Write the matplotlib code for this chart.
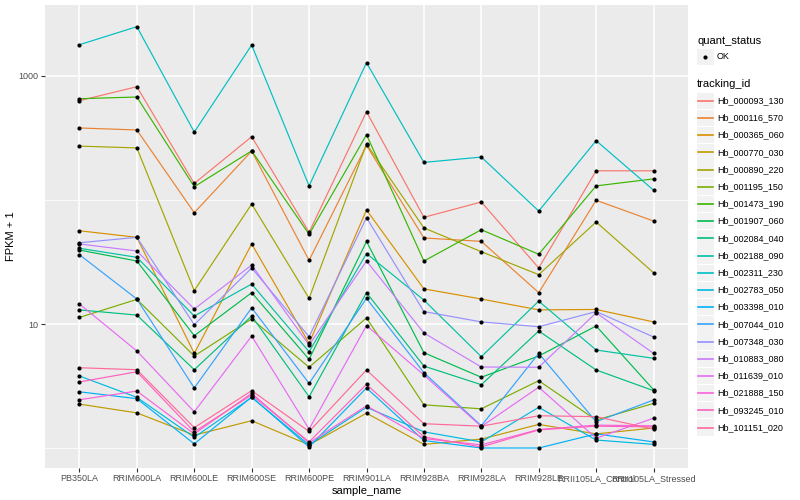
import numpy as np
import matplotlib.pyplot as plt
from matplotlib.patches import Rectangle
from matplotlib.ticker import FixedLocator, NullFormatter

plt.rcParams['font.family'] = ['Liberation Sans', 'DejaVu Sans']

# samples on the x axis
samples = ['PB350LA', 'RRIM600LA', 'RRIM600LE', 'RRIM600SE', 'RRIM600PE',
           'RRIM901LA', 'RRIM928BA', 'RRIM928LA', 'RRIM928LE',
           'RRII105LA_Control', 'RRII105LA_Stressed']

tracking_ids = ['Hb_000093_130', 'Hb_000116_570', 'Hb_000365_060', 'Hb_000770_030',
                'Hb_000890_220', 'Hb_001195_150', 'Hb_001473_190', 'Hb_001907_060',
                'Hb_002084_040', 'Hb_002188_090', 'Hb_002311_230', 'Hb_002783_050',
                'Hb_003398_010', 'Hb_007044_010', 'Hb_007348_030', 'Hb_010883_080',
                'Hb_011639_010', 'Hb_021888_150', 'Hb_093245_010', 'Hb_101151_020']

# FPKM + 1 per gene, one value per sample
hb_000093_130 = [632, 820, 136, 324, 54.9, 515, 72.5, 96.4, 28.3, 172, 172]
hb_000116_570 = [381, 367, 79.0, 248, 32.6, 276, 49.4, 46.4, 17.9, 99.5, 67.7]
hb_000365_060 = [56.5, 50.0, 5.80, 44.2, 6.99, 83.1, 19.2, 15.9, 13.0, 13.1, 10.4]
hb_000770_030 = [2.26, 1.92, 1.27, 1.66, 1.06, 1.91, 1.07, 1.18, 1.55, 1.30, 1.45]
hb_000890_220 = [272, 263, 18.6, 92.8, 16.1, 283, 59.5, 38.3, 25.0, 66.5, 25.9]
hb_001195_150 = [11.3, 15.8, 5.52, 11.0, 4.48, 11.2, 2.23, 2.07, 3.49, 1.68, 2.29]
hb_001473_190 = [656, 677, 128, 249, 52.9, 336, 32.2, 57.6, 36.5, 130, 148]
hb_001907_060 = [39.5, 32.2, 8.05, 17.9, 5.19, 46.3, 5.87, 3.72, 5.52, 9.64, 2.95]
hb_002084_040 = [13.0, 11.8, 4.28, 11.6, 2.59, 17.9, 4.58, 3.24, 8.78, 4.26, 2.90]
hb_002188_090 = [40.8, 34.5, 11.6, 21.0, 5.98, 37.0, 15.6, 5.45, 15.3, 6.17, 5.29]
hb_002311_230 = [1788, 2498, 353, 1778, 130, 1280, 201, 222, 81.5, 301, 120]
hb_002783_050 = [3.81, 2.56, 1.22, 2.56, 1.06, 2.13, 1.35, 1.12, 2.13, 1.16, 1.07]
hb_003398_010 = [2.84, 2.50, 1.08, 2.58, 1.02, 3.05, 1.15, 1.00, 1.00, 1.30, 1.12]
hb_007044_010 = [36.2, 15.9, 3.05, 13.5, 3.32, 16.1, 4.05, 1.51, 5.80, 1.63, 2.44]
hb_007348_030 = [45.2, 50.0, 9.87, 28.3, 7.90, 72.0, 12.6, 10.4, 9.51, 12.6, 7.86]
hb_010883_080 = [44.2, 38.8, 13.2, 29.9, 6.77, 32.2, 8.46, 4.50, 4.48, 12.3, 5.80]
hb_011639_010 = [14.5, 6.06, 1.96, 8.00, 1.42, 9.72, 3.88, 1.49, 3.09, 1.20, 1.74]
hb_021888_150 = [2.45, 2.88, 1.30, 2.76, 1.10, 2.19, 1.19, 1.06, 1.41, 1.53, 1.51]
hb_093245_010 = [3.41, 4.12, 1.35, 2.68, 1.12, 3.26, 1.23, 1.02, 1.40, 1.50, 1.48]
hb_101151_020 = [4.44, 4.28, 1.46, 2.90, 1.36, 4.26, 1.57, 1.50, 1.82, 1.79, 1.42]

series = [hb_000093_130, hb_000116_570, hb_000365_060, hb_000770_030, hb_000890_220,
          hb_001195_150, hb_001473_190, hb_001907_060, hb_002084_040, hb_002188_090,
          hb_002311_230, hb_002783_050, hb_003398_010, hb_007044_010, hb_007348_030,
          hb_010883_080, hb_011639_010, hb_021888_150, hb_093245_010, hb_101151_020]


def hcl_color(h, c=100, l=65):
    # polar LUV -> sRGB, like R's hcl()
    h = np.deg2rad(h)
    u, v = c * np.cos(h), c * np.sin(h)
    xn, yn, zn = 95.047, 100.0, 108.883
    un = 4 * xn / (xn + 15 * yn + 3 * zn)
    vn = 9 * yn / (xn + 15 * yn + 3 * zn)
    Y = yn * ((l + 16) / 116) ** 3
    up = u / (13 * l) + un
    vp = v / (13 * l) + vn
    X = Y * 9 * up / (4 * vp)
    Z = Y * (12 - 3 * up - 20 * vp) / (4 * vp)
    X, Y, Z = X / 100, Y / 100, Z / 100
    rgb = np.array([3.2404542 * X - 1.5371385 * Y - 0.4985314 * Z,
                    -0.9692660 * X + 1.8760108 * Y + 0.0415560 * Z,
                    0.0556434 * X - 0.2040259 * Y + 1.0572252 * Z])
    rgb = np.where(rgb <= 0.0031308, 12.92 * rgb, 1.055 * np.abs(rgb) ** (1 / 2.4) - 0.055)
    return tuple(np.clip(rgb, 0, 1))


n = len(tracking_ids)
colors = [hcl_color(h) for h in np.linspace(15, 375 - 360 / n, n)]

fig = plt.figure(figsize=(8, 5), dpi=100)
ax = fig.add_axes([45 / 800, 1 - 468 / 500, (688 - 45) / 800, (468 - 5) / 500])
ax.set_facecolor('#EBEBEB')
ax.set_yscale('log')

x = np.arange(len(samples))
for vals, col in zip(series, colors):
    ax.plot(x, vals, color=col, lw=0.85, zorder=2)
for vals in series:
    ax.scatter(x, vals, s=9, color='black', lw=0, zorder=3)

ax.set_xlim(-0.6, len(samples) - 0.4)
ax.set_ylim(0.69, 3737)
ax.set_xticks(x)
ax.set_xticklabels(samples)
ax.yaxis.set_major_locator(FixedLocator([10, 1000]))
ax.set_yticklabels(['10', '1000'])
ax.yaxis.set_minor_locator(FixedLocator([1, 100]))
ax.yaxis.set_minor_formatter(NullFormatter())
ax.tick_params(which='major', length=3, width=0.8, color='#333333',
               labelsize=6.5, labelcolor='#4D4D4D', pad=1.5)
ax.tick_params(which='minor', length=0)
ax.grid(which='major', color='white', lw=1.1)
ax.grid(which='minor', axis='y', color='white', lw=0.55)
ax.set_axisbelow(True)
for s in ax.spines.values():
    s.set_visible(False)
ax.set_xlabel('sample_name', fontsize=8, labelpad=2)
ax.set_ylabel('FPKM + 1', fontsize=8, labelpad=2)

# legends drawn by hand in pixel space
lax = fig.add_axes([0, 0, 1, 1])
lax.set_xlim(0, 800)
lax.set_ylim(500, 0)
lax.axis('off')

lax.text(697, 41, 'quant_status', fontsize=8, va='center', ha='left')
lax.add_patch(Rectangle((697, 48.5), 16.5, 16.5, color='#F2F2F2', lw=0))
lax.scatter([705.2], [56.7], s=9, color='black', lw=0)
lax.text(717, 56.7, 'OK', fontsize=6.5, va='center', ha='left')

lax.text(697, 84, 'tracking_id', fontsize=8, va='center', ha='left')
for i, (tid, col) in enumerate(zip(tracking_ids, colors)):
    yc = 100.7 + i * 17.2
    lax.add_patch(Rectangle((697, yc - 8.2), 16.5, 16.4, color='#F2F2F2', lw=0))
    lax.plot([698, 712.5], [yc, yc], color=col, lw=1.2)
    lax.text(717, yc, tid, fontsize=6.5, va='center', ha='left')

fig.savefig('out.png', dpi=100)
